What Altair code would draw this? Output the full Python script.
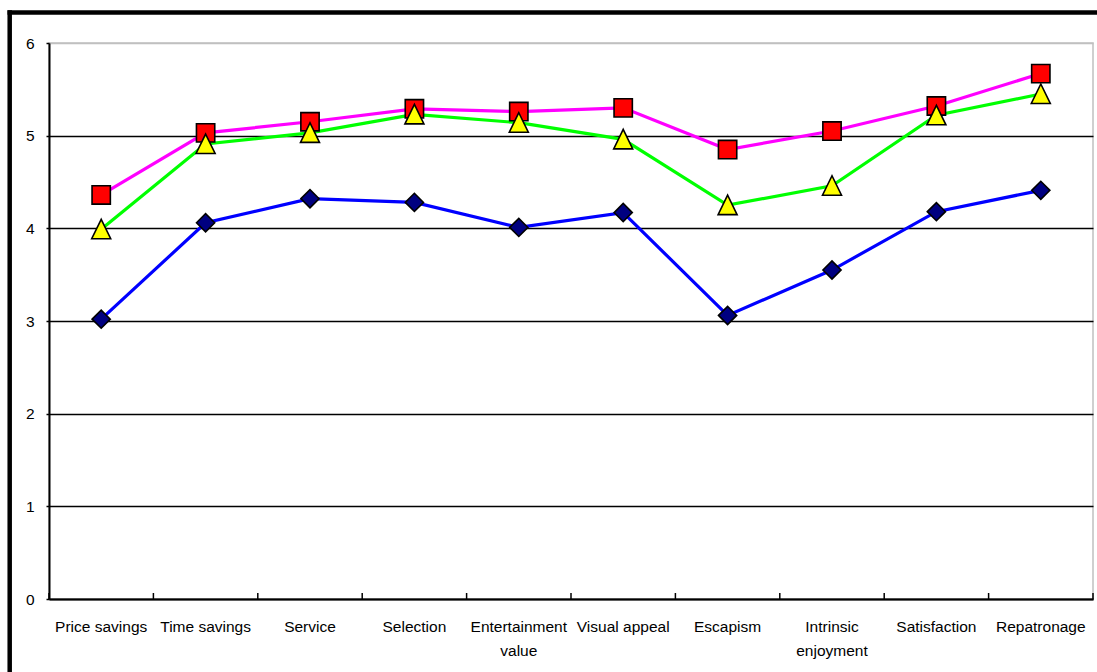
import altair as alt
import pandas as pd

# Category labels along the x axis
categories = [
    "Price savings", "Time savings", "Service", "Selection",
    "Entertainment value", "Visual appeal", "Escapism",
    "Intrinsic enjoyment", "Satisfaction", "Repatronage",
]

# Mean scores per category for the three groups
series_diamond = [3.02, 4.06, 4.32, 4.28, 4.01, 4.17, 3.06, 3.55, 4.18, 4.41]
series_triangle = [3.99, 4.91, 5.03, 5.23, 5.14, 4.96, 4.25, 4.46, 5.22, 5.45]
series_square = [4.36, 5.03, 5.15, 5.29, 5.26, 5.30, 4.85, 5.05, 5.32, 5.67]

y_ticks = [0, 1, 2, 3, 4, 5, 6]

PLOT_W = 1044
PLOT_H = 556
FONT = "Liberation Sans"


def frame(values):
    return pd.DataFrame({"category": categories, "value": values})


label_expr = (
    "datum.value == 'Entertainment value' ? ['Entertainment', 'value'] : "
    "datum.value == 'Intrinsic enjoyment' ? ['Intrinsic', 'enjoyment'] : datum.value"
)

x_scale = alt.Scale(type="band", paddingInner=0, paddingOuter=0)
x_axis = alt.Axis(
    title=None, labelAngle=0, ticks=False, tickSize=0,
    domainColor="black", domainWidth=2, grid=False,
    labelFont=FONT, labelFontSize=15.5, labelColor="black",
    labelPadding=20, labelExpr=label_expr, labelLineHeight=24,
    labelLimit=0, labelOverlap=False,
)
x_enc = alt.X("category:N", sort=categories, scale=x_scale, axis=x_axis)

y_enc = alt.Y(
    "value:Q",
    scale=alt.Scale(domain=[0, 6], nice=False, zero=True),
    axis=alt.Axis(
        title=None, values=y_ticks, format="d",
        grid=True, gridWidth=1.6,
        gridColor={"condition": {"test": "datum.value === 6", "value": "#c0c0c0"},
                   "value": "black"},
        tickColor="black", tickSize=3, tickWidth=1.5,
        domainColor="black", domainWidth=2,
        labelFont=FONT, labelFontSize=15.5, labelColor="black", labelPadding=12,
    ),
)


def series_layers(values, line_color, fill_color, shape, size):
    df = frame(values)
    line = alt.Chart(df).mark_line(color=line_color, strokeWidth=3.2).encode(
        x=x_enc, y=y_enc
    )
    pts = alt.Chart(df).mark_point(
        shape=shape, filled=True, fill=fill_color, stroke="black",
        strokeWidth=1.6, size=size, opacity=1,
    ).encode(x=x_enc, y=y_enc)
    return line, pts


sq_line, sq_pts = series_layers(series_square, "#ff00ff", "#ff0000", "square", 335)
tr_line, tr_pts = series_layers(series_triangle, "#00ff00", "#ffff00",
                                "M0,-1.05L-1,1L1,1Z", 361)
di_line, di_pts = series_layers(series_diamond, "#0000ff", "#000080", "diamond", 330)

# Inward category-boundary ticks on the x axis
cat_df = pd.DataFrame({"category": categories})
boundary_ticks = alt.Chart(cat_df).mark_rule(color="black", strokeWidth=1.5).encode(
    x=alt.X("category:N", sort=categories, scale=x_scale, axis=x_axis, bandPosition=0),
    y=alt.value(PLOT_H - 6),
    y2=alt.value(PLOT_H),
)
one = pd.DataFrame({"k": [0]})
last_tick = alt.Chart(one).mark_rule(color="black", strokeWidth=1.5).encode(
    x=alt.value(PLOT_W), y=alt.value(PLOT_H - 6), y2=alt.value(PLOT_H)
)

# Heavy outer frame (left and top edges)
frame_left = alt.Chart(one).mark_rule(color="black", strokeWidth=4.5).encode(
    x=alt.value(-39.3), y=alt.value(-32.8), y2=alt.value(PLOT_H + 90)
)
frame_top = alt.Chart(one).mark_rule(color="black", strokeWidth=4.5).encode(
    x=alt.value(-41.5), x2=alt.value(PLOT_W + 20), y=alt.value(-30.5)
)

chart = alt.layer(
    boundary_ticks, last_tick,
    sq_line, tr_line, di_line,
    sq_pts, tr_pts, di_pts,
    frame_left, frame_top,
).properties(
    width=PLOT_W,
    height=PLOT_H,
    autosize=alt.AutoSizeParams(type="none"),
    padding={"left": 49, "top": 43, "right": 4, "bottom": 73},
    background="white",
).configure_view(
    stroke="#c0c0c0", strokeWidth=1.5
)

chart.save("out.html", embed_options={"renderer": "svg", "actions": False})
